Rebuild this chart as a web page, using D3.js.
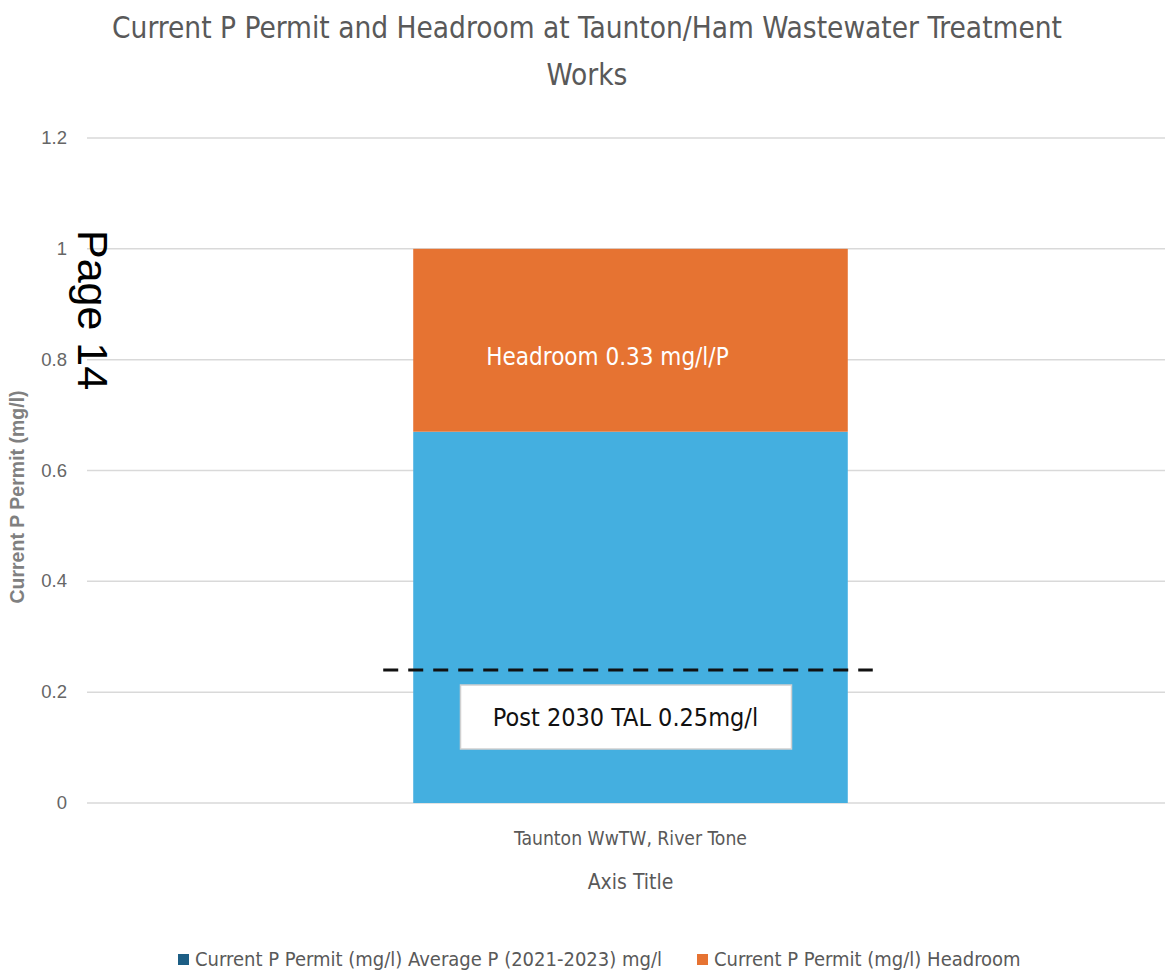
<!DOCTYPE html>
<html>
<head>
<meta charset="utf-8">
<script src="https://cdn.jsdelivr.net/npm/d3@7"></script>
<style>
  body { margin: 0; background: #fff; }
  .narrow { font-family: "Liberation Sans Narrow", "DejaVu Sans Condensed", "Roboto Condensed", sans-serif; }
  .grid line { stroke: #d9d9d9; stroke-width: 1.5; }
</style>
</head>
<body>
<div id="vis"></div>
<script>
// chart data
var categories = ['Taunton WwTW, River Tone'];
var seriesNames = ['Current P Permit (mg/l) Average P (2021-2023) mg/l', 'Current P Permit (mg/l) Headroom'];
var averageP = [0.67];
var headroom = [0.33];
var yTicks = [0, 0.2, 0.4, 0.6, 0.8, 1, 1.2];
var talLevel = 0.24;
var talLabel = 'Post 2030 TAL 0.25mg/l';
var headroomLabel = 'Headroom 0.33 mg/l/P';

var width = 1165;
var height = 973;
var margin = { left: 87, right: 0, top: 138, bottom: 170 };

var svg = d3.select('#vis').append('svg')
  .attr('width', width)
  .attr('height', height);

var x = d3.scaleBand()
  .domain(categories)
  .range([margin.left + 9, width - margin.right])
  .paddingInner(0)
  .paddingOuter(0.73);

var y = d3.scaleLinear()
  .domain([0, 1.2])
  .range([height - margin.bottom, margin.top]);

// title
svg.append('text')
  .attr('class', 'narrow')
  .attr('x', 587).attr('y', 38)
  .attr('text-anchor', 'middle')
  .attr('font-size', 29.5)
  .attr('fill', '#595959')
  .text('Current P Permit and Headroom at Taunton/Ham Wastewater Treatment');
svg.append('text')
  .attr('class', 'narrow')
  .attr('x', 587).attr('y', 85)
  .attr('text-anchor', 'middle')
  .attr('font-size', 29.5)
  .attr('fill', '#595959')
  .text('Works');

// gridlines
svg.append('g')
  .attr('class', 'grid')
  .selectAll('line')
  .data(yTicks)
  .enter().append('line')
  .attr('x1', margin.left)
  .attr('x2', width)
  .attr('y1', function (d) { return y(d); })
  .attr('y2', function (d) { return y(d); });

// y tick labels
svg.append('g')
  .selectAll('text')
  .data(yTicks)
  .enter().append('text')
  .attr('x', 67)
  .attr('y', function (d) { return y(d) + 6; })
  .attr('text-anchor', 'end')
  .attr('font-family', 'Liberation Sans, Arial, sans-serif')
  .attr('font-size', 18.5)
  .attr('fill', '#666')
  .text(function (d) { return d; });

// y axis title
svg.append('text')
  .attr('transform', 'translate(24,' + 497 + ') rotate(-90)')
  .attr('text-anchor', 'middle')
  .attr('font-family', 'Liberation Sans, Arial, sans-serif')
  .attr('font-size', 19.5)
  .attr('font-weight', 'bold')
  .attr('fill', '#808080')
  .text('Current P Permit (mg/l)');

// stacked bars
var stackData = categories.map(function (c, i) {
  return { cat: c, avg: averageP[i], head: headroom[i] };
});
var stack = d3.stack().keys(['avg', 'head'])(stackData);
var colors = ['#44afe0', '#e67332'];
var legendColors = ['#1d5e85', '#e67332'];

svg.append('g')
  .selectAll('g')
  .data(stack)
  .enter().append('g')
  .attr('fill', function (d, i) { return colors[i]; })
  .selectAll('rect')
  .data(function (d) { return d; })
  .enter().append('rect')
  .attr('x', function (d) { return x(d.data.cat); })
  .attr('width', x.bandwidth())
  .attr('y', function (d) { return y(d[1]); })
  .attr('height', function (d) { return y(d[0]) - y(d[1]); });

// headroom label
var cx = x(categories[0]) + x.bandwidth() / 2;
svg.append('text')
  .attr('class', 'narrow')
  .attr('x', cx - 23)
  .attr('y', y(averageP[0] + headroom[0] / 2) + 25)
  .attr('text-anchor', 'middle')
  .attr('font-size', 24)
  .attr('fill', '#ffffff')
  .text(headroomLabel);

// dashed TAL line
svg.append('line')
  .attr('x1', x(categories[0]) - 30)
  .attr('x2', x(categories[0]) + x.bandwidth() + 25)
  .attr('y1', y(talLevel))
  .attr('y2', y(talLevel))
  .attr('stroke', '#111')
  .attr('stroke-width', 3)
  .attr('stroke-dasharray', '15,10');

// TAL text box
svg.append('rect')
  .attr('x', cx - 170)
  .attr('y', y(talLevel) + 15)
  .attr('width', 331)
  .attr('height', 64)
  .attr('fill', '#ffffff')
  .attr('stroke', '#d0d0d0')
  .attr('stroke-width', 1.5);
svg.append('text')
  .attr('class', 'narrow')
  .attr('x', cx - 5)
  .attr('y', y(talLevel) + 56)
  .attr('text-anchor', 'middle')
  .attr('font-size', 25)
  .attr('fill', '#111')
  .text(talLabel);

// x axis category label
svg.append('text')
  .attr('class', 'narrow')
  .attr('x', cx)
  .attr('y', 845)
  .attr('text-anchor', 'middle')
  .attr('font-size', 19.2)
  .attr('fill', '#595959')
  .text(categories[0]);

svg.append('text')
  .attr('class', 'narrow')
  .attr('x', cx)
  .attr('y', 889)
  .attr('text-anchor', 'middle')
  .attr('font-size', 21)
  .attr('fill', '#595959')
  .text('Axis Title');

// legend
var legendX = [178, 697];
var legend = svg.append('g')
  .selectAll('g')
  .data(seriesNames)
  .enter().append('g')
  .attr('transform', function (d, i) { return 'translate(' + legendX[i] + ',' + 953 + ')'; });
legend.append('rect')
  .attr('width', 11).attr('height', 11)
  .attr('y', 1)
  .attr('fill', function (d, i) { return legendColors[i]; });
legend.append('text')
  .attr('class', 'narrow')
  .attr('x', 17)
  .attr('y', 13)
  .attr('font-size', 20)
  .attr('fill', '#595959')
  .text(function (d) { return d; });

// page stamp
svg.append('text')
  .attr('transform', 'translate(78,230) rotate(90)')
  .attr('font-family', 'Liberation Sans, Arial, sans-serif')
  .attr('font-size', 43)
  .attr('fill', '#000')
  .text('Page 14');
</script>
</body>
</html>
